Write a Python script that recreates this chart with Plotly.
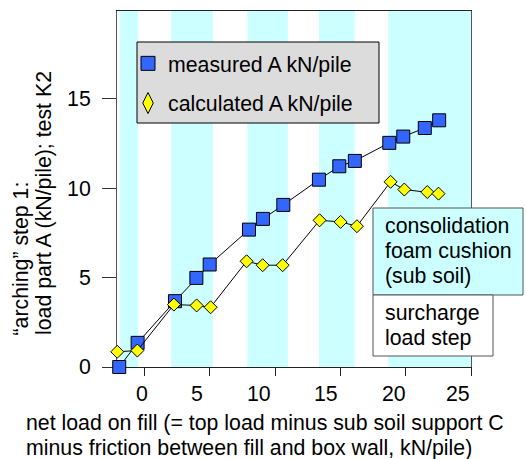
import plotly.graph_objects as go

# ---- data ----
measured_x = [-1.95, -0.54, 2.32, 3.96, 4.98, 7.99, 9.06, 10.62, 13.35, 14.91, 16.10, 18.74, 19.81, 21.46, 22.56]
measured_y = [0.00, 1.35, 3.68, 4.98, 5.73, 7.68, 8.28, 9.06, 10.47, 11.22, 11.52, 12.53, 12.88, 13.36, 13.79]
calc_x = [-2.10, -0.56, 2.24, 3.98, 5.05, 7.81, 9.04, 10.57, 13.40, 15.01, 16.26, 18.84, 19.89, 21.65, 22.51]
calc_y = [0.85, 0.92, 3.49, 3.44, 3.34, 5.91, 5.69, 5.69, 8.20, 8.11, 7.87, 10.35, 9.92, 9.78, 9.69]
band_start = [-1.9, 2.03, 7.86, 13.35, 18.66]
band_end = [-0.5, 5.23, 10.97, 16.08, 25.0]
x_ticks = [0, 5, 10, 15, 20, 25]
x_tick_labels = ["0", "5", "10", "15", "20", "25"]
y_ticks = [0, 5, 10, 15]
y_tick_labels = ["0", "5", "10", "15"]
series_names = ["measured A kN/pile", "calculated A kN/pile"]
box1_lines = ["consolidation", "foam cushion", "(sub soil)"]
box2_lines = ["surcharge", "load step"]
x_title_lines = ["net load on fill (= top load minus sub soil support C",
                 "minus friction between fill and box wall, kN/pile)"]
y_title_lines = ["\u201carching\u201d step 1:", "load part A (kN/pile); test K2"]

# ---- layout geometry (pixels) ----
W, H = 526, 459
L, R, T, B = 117, 471, 11, 367
PW, PH = R - L, B - T
FONT = "Liberation Sans, Arial, sans-serif"
FS = 21.3
BLUE = "#3366FF"
YELLOW = "#FFFF00"
CYAN = "#CCFFFF"


def px(xp):
    return (xp - L) / PW


def py(yp):
    return (B - yp) / PH


fig = go.Figure()

# bands
for s, e in zip(band_start, band_end):
    fig.add_shape(type="rect", xref="x", yref="paper", x0=s, x1=e, y0=0, y1=1,
                  fillcolor=CYAN, line_width=0, layer="below")

# data traces
fig.add_trace(go.Scatter(x=measured_x, y=measured_y, mode="lines+markers",
                         line=dict(color="black", width=1),
                         marker=dict(symbol="square", size=13, color=BLUE,
                                     line=dict(color="black", width=1)),
                         cliponaxis=False, showlegend=False))
fig.add_trace(go.Scatter(x=calc_x, y=calc_y, mode="lines+markers",
                         line=dict(color="black", width=1),
                         marker=dict(symbol="diamond", size=10, color=YELLOW,
                                     line=dict(color="black", width=1)),
                         cliponaxis=False, showlegend=False))
# legend-only entries
fig.add_trace(go.Scatter(x=[None], y=[None], mode="markers", name=series_names[0],
                         legendgroup="a",
                         marker=dict(symbol="square", size=14, color=BLUE,
                                     line=dict(color="black", width=1))))
fig.add_trace(go.Scatter(x=[None], y=[None], mode="markers", name=series_names[1],
                         legendgroup="b",
                         marker=dict(symbol="diamond-tall", size=15, color=YELLOW,
                                     line=dict(color="black", width=1))))

annotations = []
# x tick labels
x_label_shift = [5, -5, -2, 0, 2, 1]
for v, t, sh in zip(x_ticks, x_tick_labels, x_label_shift):
    annotations.append(dict(x=v, xref="x", y=0, yref="paper", text=t, showarrow=False,
                            xanchor="right", yanchor="middle", xshift=sh, yshift=-27,
                            font=dict(family=FONT, size=FS, color="black")))

# legend background box
fig.add_shape(type="rect", xref="paper", yref="paper",
              x0=px(137), x1=px(379), y0=py(123), y1=py(42),
              fillcolor="#DCDCDC", line=dict(color="black", width=1), layer="above")

# boxes
fig.add_shape(type="rect", xref="paper", yref="paper",
              x0=px(373), x1=px(523), y0=py(295), y1=py(208),
              fillcolor=CYAN, line=dict(color="#555555", width=1), layer="above")
fig.add_shape(type="rect", xref="paper", yref="paper",
              x0=px(373), x1=px(493), y0=py(356), y1=py(295),
              fillcolor="white", line=dict(color="#555555", width=1), layer="above")
for t, yc in zip(box1_lines + box2_lines, [226, 251, 276, 313, 338]):
    annotations.append(dict(x=px(383), xref="paper", y=py(yc), yref="paper", text=t,
                            showarrow=False, xanchor="left", yanchor="middle",
                            font=dict(family=FONT, size=FS, color="black")))

# x title
for t, yc in zip(x_title_lines, [423, 448]):
    annotations.append(dict(x=px(24), xref="paper", y=py(yc), yref="paper", text=t,
                            showarrow=False, xanchor="left", yanchor="middle",
                            font=dict(family=FONT, size=FS, color="black")))
# y title
for t, xc, yb in zip(y_title_lines, [20.5, 44], [338, 337]):
    annotations.append(dict(x=px(xc), xref="paper", y=py(yb), yref="paper", text=t,
                            showarrow=False, xanchor="center", yanchor="bottom",
                            textangle=-90,
                            font=dict(family=FONT, size=FS, color="black")))

fig.update_layout(
    width=W, height=H,
    margin=dict(l=L, r=W - R, t=T, b=H - B, pad=0),
    paper_bgcolor="white", plot_bgcolor="white",
    font=dict(family=FONT, size=FS, color="black"),
    showlegend=True,
    legend=dict(x=px(138), y=py(43), xanchor="left", yanchor="top",
                bgcolor="rgba(0,0,0,0)", borderwidth=0,
                font=dict(family=FONT, size=FS, color="black"),
                traceorder="grouped", tracegroupgap=9, itemsizing="trace",
                indentation=-10),
    annotations=annotations,
    xaxis=dict(range=[-2.12, 25], showgrid=False, zeroline=False,
               showline=True, linecolor="#222222", linewidth=1, mirror=True,
               ticks="outside", ticklen=8, tickcolor="#222222", tickvals=x_ticks,
               showticklabels=False, layer="below traces", fixedrange=True),
    yaxis=dict(range=[0, 19.9], showgrid=False, zeroline=False,
               showline=True, linecolor="#555555", linewidth=1, mirror=True,
               ticks="outside", ticklen=14, tickcolor="#333333",
               tickvals=y_ticks, ticktext=y_tick_labels, ticklabelstandoff=7,
               tickfont=dict(family=FONT, size=FS, color="black"),
               layer="below traces", fixedrange=True),
)

fig.write_html("out.html")
